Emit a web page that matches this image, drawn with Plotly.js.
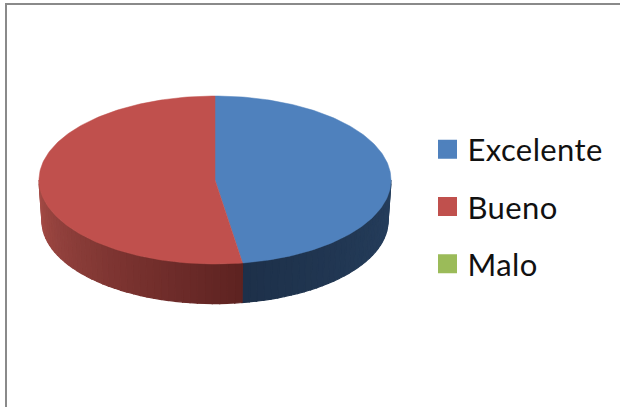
<!DOCTYPE html>
<html>
<head>
<meta charset="utf-8">
<script src="https://cdn.plot.ly/plotly-3.0.1.min.js"></script>
<style>html,body{margin:0;padding:0;background:#fff;overflow:hidden}#c{width:620px;height:407px}.legendtext{letter-spacing:0.4px}</style>
</head>
<body>
<div id="c"></div>
<script>
var categories = ['Excelente', 'Bueno', 'Malo'];
var values = [47.5, 52.5, 0];
var colors = ['#4F81BD', '#C0504D', '#9BBB59'];
var wallLight = [[38, 63, 94], [166, 76, 71], [120, 140, 70]];
var wallDark = [[29, 48, 73], [94, 35, 33], [80, 100, 50]];

var W = 620, H = 407, CX = 215, CY = 180, RX = 176, RY = 84, DEPTH = 41, BOTTOM_SCALE = 0.983;
var total = values.reduce(function (a, b) { return a + b; }, 0);
function px(t) { return Math.sin(t * Math.PI / 180); }
function py(t) { return Math.cos(t * Math.PI / 180); }
var traces = [];
var d = DEPTH / RY;
var WALL_STEP = 2.5;

// side wall strips, only on the visible front half (90..270 degrees clockwise from top)
var start = 0;
values.forEach(function (v, i) {
  var end = start + v / total * 360;
  var a0 = Math.max(start, 90), a1 = Math.min(end, 270);
  if (a1 > a0) {
    var n = Math.ceil((a1 - a0) / WALL_STEP);
    for (var k = 0; k < n; k++) {
      var t0 = a0 + (a1 - a0) * k / n, t1 = a0 + (a1 - a0) * (k + 1) / n;
      var f = i === 0 ? (t0 - a0) / (a1 - a0) : 1 - (t0 - a0) / (a1 - a0);
      var rgb = wallLight[i].map(function (c, j) { return Math.round(c + (wallDark[i][j] - c) * f); });
      var col = 'rgb(' + rgb.join(',') + ')';
      var s = BOTTOM_SCALE;
      traces.push({
        type: 'scatter', mode: 'lines', showlegend: false, hoverinfo: 'skip',
        x: [px(t0), px(t1), px(t1) * s, px(t0) * s, px(t0)],
        y: [py(t0), py(t1), py(t1) * s - d, py(t0) * s - d, py(t0)],
        fill: 'toself', fillcolor: col, line: { color: col, width: 1.2 }
      });
    }
  }
  start = end;
});

// top surface
start = 0;
values.forEach(function (v, i) {
  var end = start + v / total * 360;
  var xs = [0], ys = [0];
  for (var t = start; t < end; t += 1) { xs.push(px(t)); ys.push(py(t)); }
  xs.push(px(end), 0); ys.push(py(end), 0);
  traces.push({
    type: 'scatter', mode: 'lines', name: categories[i], showlegend: false,
    x: xs, y: ys, fill: 'toself', fillcolor: colors[i],
    line: { color: colors[i], width: v > 0 ? 0.5 : 0 }, hoverinfo: 'name'
  });
  start = end;
});

// legend entries
categories.forEach(function (c, i) {
  traces.push({
    type: 'scatter', mode: 'markers', name: c, legendgroup: c, x: [null], y: [null],
    marker: { symbol: 'square', size: 16, color: colors[i], line: { color: colors[i], width: 3 } }
  });
});

var layout = {
  width: W, height: H,
  margin: { l: 0, r: 0, t: 0, b: 0 },
  paper_bgcolor: '#fff', plot_bgcolor: '#fff',
  xaxis: { visible: false, range: [-CX / RX, (W - CX) / RX], fixedrange: true },
  yaxis: { visible: false, range: [(CY - H) / RY, CY / RY], fixedrange: true },
  showlegend: true,
  legend: {
    x: 427.5 / W, y: 1 - 122.5 / H, xanchor: 'left', yanchor: 'top',
    traceorder: 'grouped', tracegroupgap: 14, bgcolor: 'rgba(0,0,0,0)',
    font: { family: 'Lato, Carlito, sans-serif', size: 31, color: '#111' }
  },
  shapes: [
    { type: 'line', xref: 'paper', yref: 'paper', x0: 6 / W, x1: 6 / W, y0: 0, y1: 1 - 3 / H, line: { color: '#8a8a8a', width: 2 } },
    { type: 'line', xref: 'paper', yref: 'paper', x0: 5 / W, x1: 1, y0: 1 - 4 / H, y1: 1 - 4 / H, line: { color: '#8a8a8a', width: 2 } }
  ]
};
Plotly.newPlot('c', traces, layout, { displayModeBar: false, responsive: false });
</script>
</body>
</html>
